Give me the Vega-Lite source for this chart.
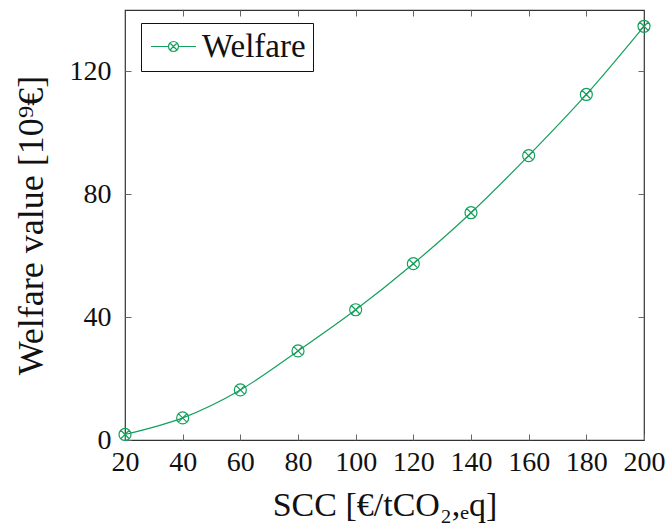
{
  "$schema": "https://vega.github.io/schema/vega-lite/v6.json",
  "width": 519,
  "height": 430,
  "autosize": {"type": "none"},
  "padding": {"left": 125, "top": 10, "right": 26, "bottom": 87},
  "background": "white",
  "data": {"values": [
    {"scc": 20, "welfare": 1.8, "series": "Welfare"},
    {"scc": 40, "welfare": 7.2, "series": "Welfare"},
    {"scc": 60, "welfare": 16.3, "series": "Welfare"},
    {"scc": 80, "welfare": 29.0, "series": "Welfare"},
    {"scc": 100, "welfare": 42.4, "series": "Welfare"},
    {"scc": 120, "welfare": 57.4, "series": "Welfare"},
    {"scc": 140, "welfare": 74.0, "series": "Welfare"},
    {"scc": 160, "welfare": 92.6, "series": "Welfare"},
    {"scc": 180, "welfare": 112.5, "series": "Welfare"},
    {"scc": 200, "welfare": 134.7, "series": "Welfare"}
  ]},
  "config": {
    "view": {"stroke": "#333", "strokeWidth": 1.2},
    "font": "Liberation Serif",
    "axis": {
      "domain": false,
      "grid": false,
      "tickSize": -6,
      "tickColor": "#666",
      "tickWidth": 1,
      "labelFont": "Liberation Serif",
      "labelFontSize": 28,
      "labelColor": "#111",
      "labelOverlap": false,
      "labelFlush": false,
      "titleFont": "Liberation Serif",
      "titleFontSize": 34,
      "titleFontWeight": "normal",
      "titleColor": "#111"
    }
  },
  "encoding": {
    "x": {"field": "scc", "type": "quantitative", "scale": {"domain": [20, 200], "nice": false, "zero": false}},
    "y": {"field": "welfare", "type": "quantitative", "scale": {"domain": [0, 140], "nice": false}},
    "color": {"field": "series", "type": "nominal", "scale": {"range": ["#14a05c"]}, "legend": {
          "title": null,
          "orient": "none",
          "legendX": 16,
          "legendY": 13,
          "strokeColor": "#111",
          "fillColor": "white",
          "padding": 7,
          "symbolType": "M -4.5 0 L -1 0 M 1 0 L 4.5 0 M -1 0 A 1 1 0 1 0 1 0 A 1 1 0 1 0 -1 0 M -0.707 -0.707 L 0.707 0.707 M -0.707 0.707 L 0.707 -0.707",
          "symbolSize": 100,
          "symbolStrokeWidth": 1.2,
          "symbolFillColor": "transparent",
          "symbolOffset": 9,
          "labelOffset": 12,
          "labelFont": "Liberation Serif",
          "labelFontSize": 33,
          "labelColor": "#111"
        }}
  },
  "layer": [
    {
      "mark": {"type": "line", "interpolate": "monotone", "strokeWidth": 1.2},
      "encoding": {
        "x": {"field": "scc", "type": "quantitative", "axis": {"orient": "bottom", "values": [20,40,60,80,100,120,140,160,180,200], "title": "SCC [€/tCO₂,ₑq]", "labelPadding": 14, "titleY": 75, "titleBaseline": "alphabetic"}},
        "y": {"field": "welfare", "type": "quantitative", "axis": {"orient": "left", "values": [0,40,80,120], "title": "Welfare value [10⁹€]", "labelPadding": 20, "titleX": -83, "titleBaseline": "alphabetic", "titleFontSize": 36}}
      }
    },
    {
      "mark": {"type": "point", "filled": false, "strokeWidth": 1.2, "size": 144, "opacity": 1, "shape": "M -1 0 A 1 1 0 1 0 1 0 A 1 1 0 1 0 -1 0 M -0.707 -0.707 L 0.707 0.707 M -0.707 0.707 L 0.707 -0.707"},
      "encoding": {
        "x": {"field": "scc", "type": "quantitative", "axis": {"orient": "top", "values": [40,60,80,100,120,140,160,180], "labels": false, "title": null}},
        "y": {"field": "welfare", "type": "quantitative", "axis": {"orient": "right", "values": [40,80,120], "labels": false, "title": null}}
      }
    }
  ],
  "resolve": {"axis": {"x": "independent", "y": "independent"}}
}
